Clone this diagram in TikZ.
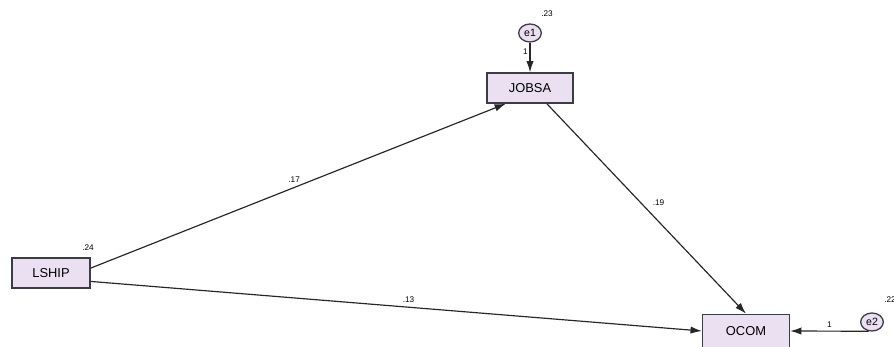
\documentclass[tikz,border=0pt]{standalone}
\usepackage{fontspec}
\setmainfont{Liberation Sans}
\usepackage{tikz}
\usetikzlibrary{arrows.meta, shapes.geometric, positioning}
\definecolor{boxlav}{RGB}{234,224,242}
\definecolor{edgegray}{RGB}{60,60,70}

\begin{document}
\begin{tikzpicture}[
        x=0.03cm, y=-0.03cm,
        obsvar/.style={rectangle, draw=edgegray, line width=1.1pt, fill=boxlav, inner sep=0pt, font=\fontsize{11}{12}\selectfont},
        errvar/.style={ellipse, draw=edgegray, line width=1.1pt, fill=boxlav, inner sep=0pt, minimum width=0.68cm, minimum height=0.54cm, font=\fontsize{9}{10}\selectfont},
        lbl/.style={font=\fontsize{7}{8}\selectfont, inner sep=1.5pt},
        arrow/.style={-{Latex[length=3.4mm, width=2.2mm]}, line width=1pt, draw=black!85}
    ]
        \useasboundingbox (0,0) rectangle (894,347);

        \node[obsvar, minimum width=2.34cm, minimum height=0.9cm]  (lship) at (51,273)  {LSHIP};
        \node[obsvar, minimum width=2.58cm, minimum height=0.9cm]  (jobsa) at (530,88)  {JOBSA};
        \node[obsvar, minimum width=2.61cm, minimum height=1.0cm]  (ocom)  at (746,331) {OCOM};
        \node[errvar] (e1) at (530,33)  {e1};
        \node[errvar] (e2) at (872,322) {e2};

        % variances
        \node[lbl] (vlship) at (88,248)  {.24};
        \node[lbl] (ve1)    at (547,14)  {.23};
        \node[lbl] (ve2)    at (890,300) {.22};

        \draw[arrow] (lship.7)   -- node[lbl, pos=0.49, above=2pt] {.17} (jobsa.213);
        \draw[arrow] (lship.-12) -- node[lbl, pos=0.52, above=2pt] {.13} (ocom.west);
        \draw[arrow] (jobsa.-43) -- node[lbl, pos=0.47, right=3mm] {.19} (ocom.north);
        \draw[arrow] (e1.south)  -- node[lbl, pos=0.3, left] {1} (jobsa.north);
        \draw[arrow] (e2.250)    -- node[lbl, pos=0.5, above=1pt] {1} (ocom.east);
    \end{tikzpicture}
\end{document}
